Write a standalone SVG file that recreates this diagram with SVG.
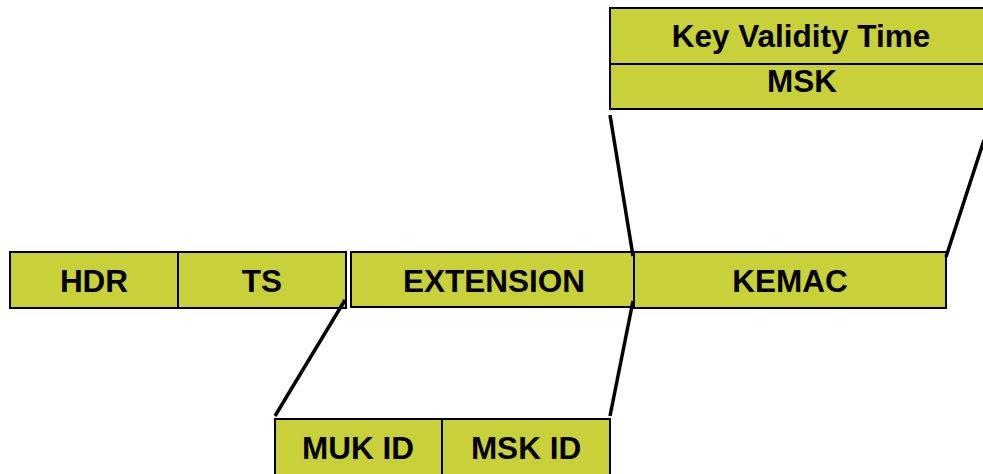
<svg xmlns="http://www.w3.org/2000/svg" width="983" height="474" viewBox="0 0 983 474">
  <style>
    .field { fill: #c8d13a; stroke: #000; stroke-width: 2; }
    .label { font-family: "Liberation Sans", Arial, sans-serif; font-weight: bold; font-size: 31.5px; fill: #000; text-anchor: middle; }
    .link { stroke: #000; stroke-width: 3.5; fill: none; stroke-linecap: butt; }
  </style>
  <rect width="983" height="474" fill="#fff"/>

  <!-- main message fields -->
  <g id="hdr">
    <rect class="field" x="10" y="252" width="168" height="56"/>
    <text class="label" x="94" y="292">HDR</text>
  </g>
  <g id="ts">
    <rect class="field" x="178" y="252" width="168" height="56"/>
    <text class="label" x="262" y="292">TS</text>
  </g>
  <g id="extension">
    <rect class="field" x="351" y="252" width="283" height="55"/>
    <text class="label" x="494" y="292">EXTENSION</text>
  </g>
  <g id="kemac">
    <rect class="field" x="634" y="252" width="312" height="56"/>
    <text class="label" x="790" y="292">KEMAC</text>
  </g>

  <!-- KEMAC contents -->
  <g id="key-validity-time">
    <rect class="field" x="610" y="8" width="384" height="56"/>
    <text class="label" x="801" y="47">Key Validity Time</text>
  </g>
  <g id="msk">
    <rect class="field" x="610" y="64" width="384" height="45"/>
    <text class="label" x="802" y="92">MSK</text>
  </g>

  <!-- EXTENSION contents -->
  <g id="muk-id">
    <rect class="field" x="275" y="419" width="167" height="60"/>
    <text class="label" x="358" y="459">MUK ID</text>
  </g>
  <g id="msk-id">
    <rect class="field" x="442" y="419" width="168" height="60"/>
    <text class="label" x="526" y="459">MSK ID</text>
  </g>

  <!-- expansion connectors -->
  <g id="connectors">
    <line class="link" x1="345" y1="300" x2="275" y2="416"/>
    <line class="link" x1="633" y1="301" x2="610" y2="416"/>
    <line class="link" x1="610" y1="115" x2="633" y2="256"/>
    <line class="link" x1="984" y1="140" x2="946" y2="257"/>
  </g>
</svg>
